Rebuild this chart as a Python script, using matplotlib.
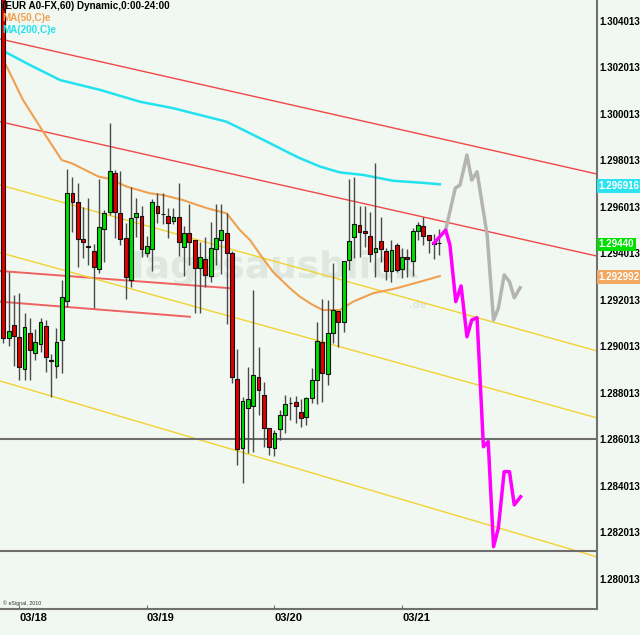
import matplotlib
matplotlib.use("Agg")
import matplotlib.pyplot as plt
import numpy as np

# hourly EUR candles (open, high, low, close)
opens = [1.30500, 1.29038, 1.29094, 1.29042, 1.28905, 1.29059, 1.28972, 1.29012, 1.29089, 1.28940,
         1.28919, 1.29029, 1.29198, 1.29662, 1.29624, 1.29464, 1.29431, 1.29412, 1.29335, 1.29505,
         1.29581, 1.29746, 1.29574, 1.29467, 1.29287, 1.29557, 1.29563, 1.29405, 1.29421, 1.29606,
         1.29571, 1.29563, 1.29542, 1.29557, 1.29431, 1.29491, 1.29459, 1.29340, 1.29376, 1.29304,
         1.29421, 1.29459, 1.29488, 1.29402, 1.28861, 1.28566, 1.28736, 1.28745, 1.28871, 1.28794,
         1.28649, 1.28563, 1.28645, 1.28707, 1.28757, 1.28761, 1.28721, 1.28699, 1.28781, 1.28857,
         1.29019, 1.28883, 1.29061, 1.29154, 1.29105, 1.29373, 1.29471, 1.29525, 1.29498, 1.29477,
         1.29409, 1.29455, 1.29412, 1.29327, 1.29436, 1.29333, 1.29387, 1.29369, 1.29499, 1.29521,
         1.29481, 1.29452, 1.29445]
highs = [1.30520, 1.29322, 1.29223, 1.29231, 1.29145, 1.29124, 1.29077, 1.29124, 1.29115, 1.28969,
         1.29081, 1.29287, 1.29765, 1.29732, 1.29706, 1.29603, 1.29640, 1.29442, 1.29720, 1.29588,
         1.29961, 1.29760, 1.29757, 1.29534, 1.29686, 1.29639, 1.29606, 1.29477, 1.29636, 1.29663,
         1.29660, 1.29598, 1.29596, 1.29706, 1.29520, 1.29614, 1.29459, 1.29452, 1.29471, 1.29538,
         1.29614, 1.29614, 1.29574, 1.29413, 1.28989, 1.28785, 1.28914, 1.29244, 1.28998, 1.28850,
         1.28649, 1.28642, 1.28728, 1.28793, 1.28785, 1.28788, 1.28774, 1.28785, 1.28907, 1.29108,
         1.29204, 1.29201, 1.29359, 1.29154, 1.29369, 1.29720, 1.29732, 1.29606, 1.29606, 1.29581,
         1.29789, 1.29560, 1.29424, 1.29459, 1.29445, 1.29424, 1.29419, 1.29509, 1.29538, 1.29560,
         1.29481, 1.29485, 1.29505]
lows = [1.29016, 1.29005, 1.28919, 1.28857, 1.28857, 1.28857, 1.28943, 1.28979, 1.28893, 1.28785,
        1.28866, 1.28887, 1.29172, 1.29495, 1.29345, 1.29382, 1.29352, 1.29167, 1.29316, 1.29366,
        1.29567, 1.29467, 1.29438, 1.29204, 1.29258, 1.29473, 1.29387, 1.29385, 1.29327, 1.29531,
        1.29528, 1.29467, 1.29528, 1.29390, 1.29306, 1.29352, 1.29147, 1.29147, 1.29258, 1.29280,
        1.29352, 1.29313, 1.29098, 1.28846, 1.28492, 1.28413, 1.28542, 1.28549, 1.28707, 1.28570,
        1.28535, 1.28530, 1.28599, 1.28631, 1.28685, 1.28671, 1.28657, 1.28664, 1.28757, 1.28754,
        1.28764, 1.28836, 1.29015, 1.28998, 1.29065, 1.29330, 1.29381, 1.29387, 1.29431, 1.29366,
        1.29301, 1.29366, 1.29287, 1.29280, 1.29323, 1.29294, 1.29301, 1.29304, 1.29459, 1.29438,
        1.29402, 1.29378, 1.29395]
closes = [1.29038, 1.29068, 1.29048, 1.28914, 1.29085, 1.28986, 1.29022, 1.29107, 1.28957, 1.28940,
          1.29021, 1.29215, 1.29663, 1.29624, 1.29464, 1.29451, 1.29431, 1.29342, 1.29516, 1.29574,
          1.29757, 1.29578, 1.29462, 1.29301, 1.29555, 1.29574, 1.29421, 1.29433, 1.29621, 1.29574,
          1.29571, 1.29534, 1.29560, 1.29452, 1.29491, 1.29449, 1.29340, 1.29387, 1.29309, 1.29426,
          1.29469, 1.29502, 1.29405, 1.28871, 1.28561, 1.28767, 1.28775, 1.28877, 1.28814, 1.28652,
          1.28570, 1.28631, 1.28707, 1.28753, 1.28757, 1.28745, 1.28692, 1.28781, 1.28857, 1.29024,
          1.28886, 1.29058, 1.29158, 1.29108, 1.29369, 1.29455, 1.29527, 1.29495, 1.29488, 1.29399,
          1.29424, 1.29419, 1.29327, 1.29416, 1.29330, 1.29387, 1.29376, 1.29499, 1.29524, 1.29477,
          1.29459, 1.29441, 1.29445]

# moving averages (vertices)
ma50_x = [0.3, 3.7, 7.3, 11, 12.9, 17.9, 20, 23.2, 27.6, 30, 33.8, 38.3, 42, 44.5, 46.4, 48.8,
          50.7, 53.9, 55.8, 58.2, 60.1, 63.3, 65.8, 69.5, 74, 78.4, 82.1]
ma50_y = [1.30221, 1.30062, 1.29932, 1.29803, 1.29789, 1.29732, 1.29722, 1.29689, 1.29660, 1.29653,
          1.29631, 1.29596, 1.29574, 1.29502, 1.29459, 1.29381, 1.29323, 1.29252, 1.29215, 1.29180,
          1.29158, 1.29158, 1.29194, 1.29230, 1.29252, 1.29280, 1.29304]
ma200_x = [0.3, 5, 10.7, 18.2, 25.7, 32, 37, 42, 45.8, 49.6, 53.9, 55.8, 59.6, 63.3, 67.7, 73.3, 78.4, 82.1]
ma200_y = [1.30269, 1.30212, 1.30147, 1.30105, 1.30054, 1.30026, 1.29997, 1.29968, 1.29925, 1.29882,
           1.29832, 1.29811, 1.29775, 1.29750, 1.29739, 1.29714, 1.29706, 1.29699]

# forecast paths
fc_pink_x = [81.0, 83.2, 84.0, 85.1, 86.1, 87.2, 88.1, 89.1, 90.3, 91.2, 92.2, 93.1, 94.2, 95.2, 96.1, 97.3]
fc_pink_y = [1.29446, 1.29502, 1.29438, 1.29194, 1.29262, 1.29043, 1.29115, 1.29125, 1.28570, 1.28592,
             1.28140, 1.28219, 1.28463, 1.28463, 1.28320, 1.28355]
fc_grey_x = [83.2, 85.0, 85.9, 87.2, 88.1, 89.1, 91.0, 92.2, 93.1, 94.2, 95.2, 96.1, 97.2]
fc_grey_y = [1.29502, 1.29682, 1.29696, 1.29825, 1.29717, 1.29753, 1.29481, 1.29115, 1.29165, 1.29309,
             1.29280, 1.29211, 1.29254]

# trend lines: (x0, y0, x1, y1)
red_lines = [(-0.62, 1.30324, 111.66, 1.29743),
             (-0.62, 1.29968, 111.66, 1.29390)]
red_short = [(-0.62, 1.29326, 42.6, 1.29252),
             (-0.62, 1.29194, 35.1, 1.29129)]
yellow_lines = [(-0.62, 1.29696, 111.66, 1.28982),
                (-0.62, 1.29405, 111.66, 1.28694),
                (-0.62, 1.28853, 111.66, 1.28096)]
hlines = [1.28603, 1.28122]

yticks = [1.280013 + 0.002 * k for k in range(13)]
day_pos = [3, 27, 51, 75]
day_labels = ["03/18", "03/19", "03/20", "03/21"]

badges = [(1.296916, "1.296916", "#2de3ef"),
          (1.29440, "1.29440", "#00e000"),
          (1.292992, "1.292992", "#f0a862")]

bg = "#f1f8f1"
fig = plt.figure(figsize=(6.4, 6.35), dpi=100, facecolor=bg)
ax = fig.add_axes([0, 1 - 609 / 635, 597 / 640, 609 / 635])
ax.set_facecolor(bg)

# watermark
ax.text(0.455, 0.56, "Tagesausblick", transform=ax.transAxes, fontsize=27, fontweight="bold",
        color="#dee8de", ha="center", va="center", zorder=0.5, family="DejaVu Sans")
ax.text(0.70, 0.50, ".de", transform=ax.transAxes, fontsize=7, fontweight="bold",
        color="#dee8de", ha="center", va="center", zorder=0.5)

for x0, y0, x1, y1 in red_lines:
    ax.plot([x0, x1], [y0, y1], color="#f04848", lw=1.0, zorder=1)
for x0, y0, x1, y1 in red_short:
    ax.plot([x0, x1], [y0, y1], color="#f06262", lw=1.4, zorder=1)
for x0, y0, x1, y1 in yellow_lines:
    ax.plot([x0, x1], [y0, y1], color="#f2d232", lw=1.0, zorder=1)
for h in hlines:
    ax.axhline(h, color="#6e6e6e", lw=1.5, zorder=1)

ax.plot(ma50_x, ma50_y, color="#f0a050", lw=1.5, zorder=2)
ax.plot(ma200_x, ma200_y, color="#22e2ee", lw=1.8, zorder=2)

idx = np.arange(len(opens))
o = np.array(opens); c = np.array(closes)
ax.vlines(idx, lows, highs, color="#4a4a4a", lw=1.0, zorder=3)
up = c > o
bottoms = np.minimum(o, c)
heights = np.maximum(np.abs(c - o), 0.00001)
colors = np.where(up, "#00e000", "#e00000")
colors = np.where(np.abs(c - o) < 1e-6, "#202020", colors)
ax.bar(idx, heights, bottom=bottoms, width=0.72, color=colors, edgecolor="#111111",
       linewidth=0.8, zorder=4)

ax.plot(fc_grey_x, fc_grey_y, color="#b4b4b4", lw=2.5, zorder=5)
ax.plot(fc_pink_x, fc_pink_y, color="#ff00ff", lw=2.5, zorder=6)

ax.set_xlim(-0.62, 111.66)
ax.set_ylim(1.27872, 1.304916)

for s in ["top", "left"]:
    ax.spines[s].set_visible(False)
for s in ["right", "bottom"]:
    ax.spines[s].set_color("#707070")
    ax.spines[s].set_linewidth(1.5)

ax.yaxis.tick_right()
ax.set_yticks(yticks)
ax.set_yticklabels(["%.6f" % v for v in yticks], fontsize=7, fontweight="bold",
                   family=["Liberation Sans", "DejaVu Sans"])
ax.tick_params(axis="y", length=0, pad=2)
ax.set_xticks(day_pos)
ax.set_xticklabels(day_labels, fontsize=8, fontweight="bold", ha="left",
                   family=["Liberation Sans Narrow", "Liberation Sans", "DejaVu Sans"])
ax.tick_params(axis="x", direction="in", length=3, color="#707070", pad=3)

for val, txt, col in badges:
    ax.text(1.003, val, txt, transform=ax.get_yaxis_transform(), ha="left", va="center",
            fontsize=7, fontweight="bold", color="white", family=["Liberation Sans", "DejaVu Sans"],
            bbox=dict(boxstyle="square,pad=0.18", fc=col, ec="none"), zorder=10, clip_on=False)

fam = ["Liberation Sans", "DejaVu Sans"]
fig.text(2 / 640, 1 - 6 / 635, "(EUR A0-FX,60) Dynamic,0:00-24:00", fontsize=7.1,
         fontweight="bold", color="black", va="center", ha="left", family=fam)
fig.text(2 / 640, 1 - 18 / 635, "MA(50,C)e", fontsize=7.1, fontweight="bold",
         color="#f0a050", va="center", ha="left", family=fam)
fig.text(2 / 640, 1 - 30 / 635, "MA(200,C)e", fontsize=7.1, fontweight="bold",
         color="#22e2ee", va="center", ha="left", family=fam)
fig.text(3 / 640, 1 - 603 / 635, "\u00a9 eSignal, 2010", fontsize=3.8, color="#333333",
         va="center", ha="left", family=fam)

fig.savefig("out.png", dpi=100, facecolor=bg)
